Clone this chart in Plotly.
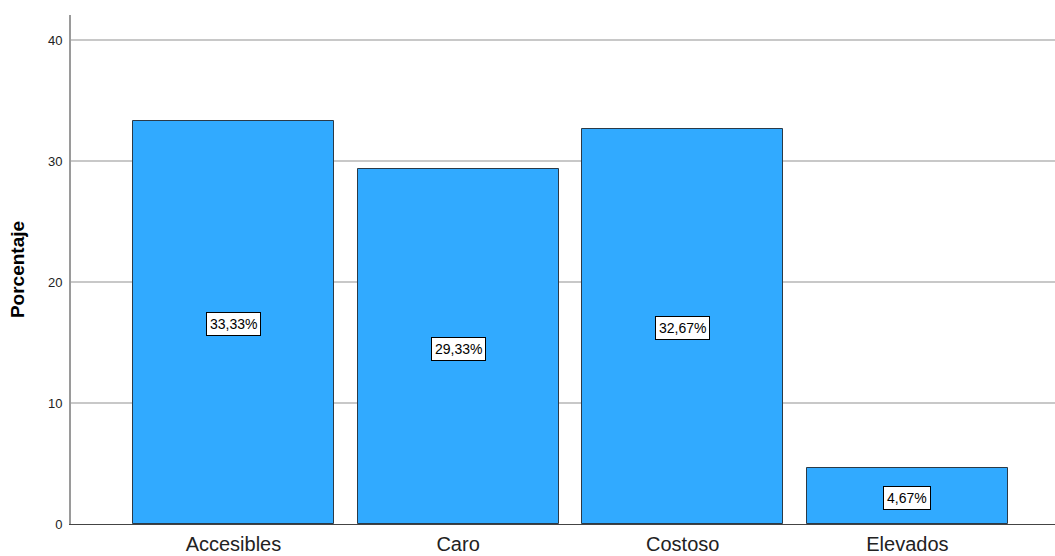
import plotly.graph_objects as go

categories = ["Accesibles", "Caro", "Costoso", "Elevados"]
values = [33.33, 29.33, 32.67, 4.67]
labels = ["33,33%", "29,33%", "32,67%", "4,67%"]
y_ticks = [0, 10, 20, 30, 40]

fig = go.Figure()
fig.add_trace(go.Bar(
    x=list(range(len(categories))), y=values, width=0.895,
    marker=dict(color="#31AAFF", line=dict(color="#2b3a47", width=1)),
    hoverinfo="skip",
))

for i, (v, t) in enumerate(zip(values, labels)):
    fig.add_annotation(
        x=i, y=v / 2, text=t, showarrow=False, yshift=-2,
        font=dict(family="Liberation Sans, Arial", size=14, color="black"),
        bgcolor="white", bordercolor="black", borderwidth=1, borderpad=3,
    )

fig.update_layout(
    width=1055, height=556,
    margin=dict(l=71, r=0, t=15, b=32),
    plot_bgcolor="white", paper_bgcolor="white",
    showlegend=False,
    bargap=0,
    font=dict(family="Liberation Sans, Arial"),
)
fig.update_xaxes(
    range=[-0.723, 3.657], tickvals=list(range(len(categories))), ticktext=categories,
    showgrid=False, zeroline=False, showline=True, linecolor="#444444", linewidth=1,
    ticks="", tickfont=dict(size=20, color="#222222"), ticklabelstandoff=2,
)
fig.update_yaxes(
    range=[0, 42.07], tickvals=y_ticks,
    showgrid=True, gridcolor="#C8C8C8", gridwidth=1.5, zeroline=False,
    showline=True, linecolor="#9a9a9a", linewidth=2,
    ticks="", tickfont=dict(size=13, color="#222222"), ticklabelstandoff=4,
    title=dict(text="<b>Porcentaje</b>", font=dict(size=19, color="black"), standoff=18),
)

fig.write_html("out.html")
